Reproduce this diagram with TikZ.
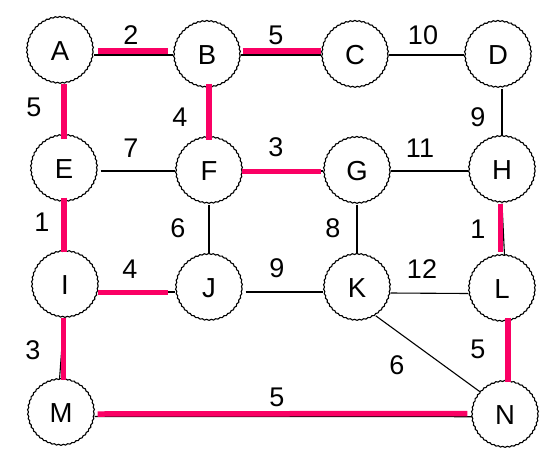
\documentclass[tikz,border=0pt]{standalone}
\usepackage{fontspec}
\setmainfont{Liberation Sans}
\usetikzlibrary{calc,decorations.pathmorphing}
\definecolor{hl}{RGB}{250,0,100}
\begin{document}
\begin{tikzpicture}[x=1pt,y=-1pt,
  vert/.style={circle, draw, line width=1.1pt, minimum size=66pt, inner sep=0pt,
    font=\fontsize{27.5}{27.5}\selectfont,
    decorate, decoration={snake, segment length=4.5pt, amplitude=0.5pt}},
  edge/.style={line width=1.1pt, black},
  tree/.style={line width=5.5pt, hl},
  wt/.style={font=\fontsize{27}{27}\selectfont, inner sep=0pt}]
\useasboundingbox (0,0) rectangle (557,451);
% vertices
\node[vert] (A) at (60,51)  {A};
\node[vert] (B) at (207,55) {B};
\node[vert] (C) at (355,55) {C};
\node[vert] (D) at (498,55) {D};
\node[vert] (E) at (64,169) {E};
\node[vert] (F) at (209,171) {F};
\node[vert] (G) at (357,171) {G};
\node[vert] (H) at (502,170) {H};
\node[vert] (I) at (65,285) {I};
\node[vert] (J) at (209,288) {J};
\node[vert] (K) at (357,288) {K};
\node[vert] (L) at (502,289) {L};
\node[vert] (M) at (61,413) {M};
\node[vert] (N) at (505,415) {N};
% black edges
\draw[edge] (A.east |- B.west) -- (B.west);
\draw[edge] (B.east) -- (C.west);
\draw[edge] (C.east) -- (D.west);
\draw[edge] ($(E.east)+(3,2)$) -- (F.west);
\draw[edge] (F.east) -- (G.west);
\draw[edge] (G.east) -- (G.east -| H.west);
\draw[edge] (D.south -| H.north) -- (H.north);
\draw[edge] (F.south) -- (J.north);
\draw[edge] (G.south) -- (K.north);
\draw[edge] (H.south) -- ($(L.north)+(2.5,0)$);
\draw[edge] ($(I.east)+(0,7)$) -- ($(J.west)+(0,4)$);
\draw[edge] ($(J.east)+(3,4)$) -- ($(K.west)+(0,4)$);
\draw[edge] ($(K.east)+(0,5)$) -- ($(L.west)+(0,4.5)$);
\draw[edge] (K.-56) -- (N.137);
\draw[edge] ($(I.south)+(-1,0)$) -- ($(M.north)+(-1.5,0)$);
\draw[edge] ($(M.east)+(0,3.5)$) -- ($(N.west)+(1,1.7)$);
% highlighted tree edges
\draw[tree] ($(A.east)+(4,0)$) -- ($(B.west)+(-5,-4)$);
\draw[tree] ($(B.east)+(2,-4)$) -- ($(C.west)+(0,-4)$);
\draw[tree] ($(A.south)+(4,-1)$) -- ($(E.north)+(0,4)$);
\draw[tree] ($(B.south)+(2,-5)$) -- ($(F.north)+(0,3)$);
\draw[tree] ($(F.east)+(-1,0.7)$) -- ($(G.west)+(-2,0.7)$);
\draw[tree] ($(H.south)+(-1.7,0)$) -- ($(L.north)+(-1.7,-3)$);
\draw[tree] ($(E.south)+(0,-5)$) -- ($(I.north)+(-1,1)$);
\draw[tree] ($(I.east)+(-1,7.5)$) -- ($(J.west)+(-7,4.5)$);
\draw[tree] ($(I.south)+(-1.3,-1)$) -- ($(M.north)+(2.7,1)$);
\draw[tree] ($(L.south)+(6,-5)$) -- ($(N.north)+(3,0.7)$);
\draw[tree] ($(M.east)+(3,1)$) -- ($(N.west)+(-4,-1.5)$);
% weights
\node[wt] (wAB) at (131,35) {2};
\node[wt] (wBC) at (276,35) {5};
\node[wt] (wCD) at (423,35) {10};
\node[wt] (wAE) at (34,107) {5};
\node[wt] (wBF) at (180,117) {4};
\node[wt] (wDH) at (478,117) {9};
\node[wt] (wEF) at (131,148) {7};
\node[wt] (wFG) at (276,147) {3};
\node[wt] (wGH) at (420,148) {11};
\node[wt] (wEI) at (42,222) {1};
\node[wt] (wFJ) at (178,228) {6};
\node[wt] (wGK) at (333,228) {8};
\node[wt] (wHL) at (478,229) {1};
\node[wt] (wIJ) at (130,269) {4};
\node[wt] (wJK) at (277,268) {9};
\node[wt] (wKL) at (422,269) {12};
\node[wt] (wIM) at (33,350) {3};
\node[wt] (wLN) at (478,349) {5};
\node[wt] (wKN) at (397,365) {6};
\node[wt] (wMN) at (277,397) {5};
\end{tikzpicture}
\end{document}
